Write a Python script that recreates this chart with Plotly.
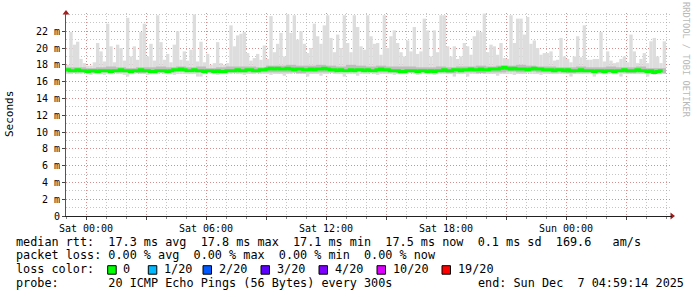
import plotly.graph_objects as go
import pandas as pd

# ---------------- data ----------------
START = "2025-12-05 23:00:00"
STEP_MIN = 10          # smoke / median resolution
MID_STEP_MIN = 30      # inner smoke band resolution

median_ms = [
    17.4,17.3,17.3,17.4,17.3,17.3,17.2,17.3,17.3,17.2,17.3,17.3,17.3,17.2,17.3,17.3,17.4,17.3,
    17.3,17.2,17.3,17.3,17.4,17.3,17.3,17.2,17.2,17.3,17.3,17.3,17.2,17.3,17.4,17.4,17.5,17.4,
    17.3,17.3,17.4,17.3,17.3,17.2,17.3,17.3,17.2,17.3,17.2,17.2,17.3,17.3,17.3,17.4,17.3,17.3,
    17.4,17.4,17.3,17.3,17.4,17.4,17.5,17.6,17.5,17.6,17.5,17.5,17.6,17.5,17.4,17.5,17.5,17.4,
    17.4,17.5,17.4,17.5,17.5,17.6,17.5,17.4,17.4,17.3,17.4,17.3,17.3,17.4,17.3,17.4,17.4,17.3,
    17.4,17.3,17.3,17.4,17.5,17.4,17.4,17.3,17.3,17.3,17.2,17.2,17.3,17.3,17.3,17.2,17.3,17.3,
    17.2,17.3,17.2,17.3,17.3,17.4,17.3,17.3,17.4,17.4,17.3,17.4,17.4,17.5,17.4,17.4,17.5,17.4,
    17.4,17.5,17.5,17.5,17.6,17.7,17.6,17.5,17.6,17.5,17.5,17.5,17.4,17.5,17.6,17.5,17.5,17.4,
    17.4,17.4,17.3,17.4,17.4,17.3,17.4,17.3,17.3,17.3,17.4,17.3,17.3,17.3,17.2,17.3,17.3,17.2,
    17.3,17.3,17.2,17.3,17.3,17.4,17.3,17.3,17.3,17.4,17.3,17.3,17.2,17.3,17.1,17.2,17.3,17.3,
]

smoke_max_ms = [
    18.0,21.9,20.4,20.75,18.7,18.2,17.9,17.9,18.3,20.6,19.6,18.4,22.9,20.2,18.3,20.4,20.0,18.5,
    23.6,19.0,20.2,18.6,21.9,22.9,19.0,20.5,18.5,23.9,20.7,18.6,19.3,18.3,20.4,22.0,18.6,19.6,
    18.5,19.8,24.0,18.4,20.75,18.3,19.3,18.0,18.2,20.7,18.2,18.0,18.2,22.7,20.2,21.5,21.7,21.9,
    19.4,18.5,18.8,19.3,18.6,20.3,18.7,23.8,19.5,20.5,21.8,19.0,24.0,21.8,23.9,21.0,22.0,20.5,
    19.4,20.0,22.9,21.4,20.5,22.7,23.9,21.2,19.5,21.6,20.0,23.9,20.6,19.5,23.9,22.5,20.2,19.8,
    23.9,21.4,20.5,20.6,19.2,23.9,20.0,21.4,22.1,20.6,19.5,19.0,20.9,19.6,22.5,19.3,19.6,23.5,
    22.1,19.0,22.1,19.5,23.9,23.9,20.2,19.0,20.2,18.7,19.0,20.6,20.2,19.2,21.4,22.1,21.9,24.1,
    19.5,20.4,20.2,19.2,20.6,18.8,18.7,23.9,20.6,23.5,23.5,21.6,23.7,20.5,20.9,20.0,19.2,19.4,
    19.4,19.6,18.5,18.6,21.2,19.0,18.7,18.3,19.0,21.4,18.9,22.7,18.6,18.6,18.7,18.7,21.9,18.4,
    19.6,18.5,18.2,18.3,18.7,19.0,18.3,21.6,19.6,18.2,18.7,19.4,18.2,20.8,21.2,19.0,18.2,20.8,
]

smoke_min_ms = [
    16.9,16.9,17.0,16.9,16.9,17.0,16.9,16.8,16.9,16.9,16.9,16.8,16.9,16.9,17.0,16.9,16.9,16.8,
    16.6,16.9,16.9,17.0,16.9,16.9,16.8,16.9,16.9,16.9,17.0,16.9,16.9,16.9,16.8,16.9,16.9,16.9,
    16.9,16.9,16.9,16.6,16.6,16.9,17.0,16.9,16.9,16.8,16.9,16.9,16.9,16.9,17.0,16.9,16.9,16.8,
    16.9,16.9,16.9,17.0,16.9,16.9,16.9,16.8,16.9,16.9,16.9,16.7,16.9,16.9,17.0,16.9,16.9,16.9,
    16.6,16.9,16.9,16.9,16.7,16.9,16.9,17.0,16.9,16.9,16.9,16.6,16.9,16.9,16.9,16.7,16.9,16.9,
    16.9,17.0,16.9,16.8,16.9,16.9,16.9,16.9,16.8,16.9,16.9,16.9,16.9,17.0,16.9,16.8,16.9,16.9,
    16.9,16.9,16.8,16.9,16.9,16.9,16.9,16.9,16.6,16.9,16.9,16.9,16.6,16.9,16.9,16.9,17.0,16.9,
    16.9,16.9,16.9,16.7,16.9,16.9,16.9,16.9,16.8,16.9,16.9,16.9,17.0,16.9,16.9,16.9,16.8,16.9,
    16.9,16.9,16.9,16.9,16.9,16.9,16.9,16.6,16.9,16.9,16.9,16.9,16.9,16.9,16.6,16.9,16.9,16.9,
    16.9,16.9,16.9,16.9,16.6,16.9,16.9,16.9,16.9,16.9,16.9,16.9,16.6,16.9,16.8,16.9,16.9,16.9,
]

inner_lo_ms = [
    17.1,17.1,17.0,17.1,17.1,17.1,17.1,17.0,17.1,17.1,17.1,17.2,
    17.2,17.1,17.1,17.1,17.1,17.1,17.1,17.1,17.1,17.1,17.1,17.0,
    17.1,17.1,17.1,17.2,17.2,17.2,17.2,17.1,17.1,17.0,17.1,17.1,
    17.1,17.1,17.0,17.1,17.1,17.0,17.1,17.1,17.2,17.1,17.2,17.1,
    17.1,17.1,17.0,17.1,17.1,17.0,17.1,17.1,17.0,17.1,17.0,17.0,
]
inner_hi_ms = [
    17.7,17.7,17.6,17.7,17.8,17.7,17.6,17.7,17.7,17.8,17.7,17.8,
    17.7,17.8,17.6,17.7,17.8,17.8,17.8,17.7,17.9,17.9,18.0,17.9,
    17.9,18.0,17.9,17.8,18.0,17.9,17.8,17.9,17.8,17.8,17.8,17.7,
    17.7,17.8,17.7,17.8,17.8,17.9,17.8,17.9,17.9,18.0,17.9,17.8,
    17.8,17.7,17.7,17.8,17.7,17.7,17.8,17.7,17.7,17.8,17.6,17.6,
]

y_tick_values = [0, 2, 4, 6, 8, 10, 12, 14, 16, 18, 20, 22]
y_tick_labels = ["0", "2 m", "4 m", "6 m", "8 m", "10 m", "12 m", "14 m", "16 m", "18 m", "20 m", "22 m"]
x_tick_labels = ["Sat 00:00", "", "Sat 06:00", "", "Sat 12:00", "", "Sat 18:00", "", "Sun 00:00", ""]
X_FIRST_TICK = "2025-12-06 00:00:00"

legend_rtt = "median rtt:  17.3 ms avg  17.8 ms max  17.1 ms min  17.5 ms now  0.1 ms sd  169.6   am/s"
legend_loss = "packet loss: 0.00 % avg  0.00 % max  0.00 % min  0.00 % now"
legend_color_title = "loss color:"
loss_labels = ["0", "1/20", "2/20", "3/20", "4/20", "10/20", "19/20"]
loss_colors = ["#00ff00", "#00b8ff", "#0059ff", "#5e00ff", "#7e00ff", "#dd00ff", "#ff0000"]
legend_probe = "probe:       20 ICMP Echo Pings (56 Bytes) every 300s"
legend_end = "end: Sun Dec  7 04:59:14 2025"
y_title = "Seconds"
watermark = "RRDTOOL / TOBI OETIKER"

# ---------------- layout geometry ----------------
W, H = 697, 297
ML, MR, MT, MB = 66, 25, 13, 81
PW, PH = W - ML - MR, H - MT - MB
Y_TOP = 24.17
X_EXTRA_H = 0.3

start = pd.Timestamp(START)
t10 = [start + pd.Timedelta(minutes=STEP_MIN * i) for i in range(len(median_ms))]
t30 = [start + pd.Timedelta(minutes=MID_STEP_MIN * i) for i in range(len(inner_hi_ms))]
end = t10[-1] + pd.Timedelta(minutes=STEP_MIN)
x_end = end + pd.Timedelta(hours=X_EXTRA_H)
tickvals = [pd.Timestamp(X_FIRST_TICK) + pd.Timedelta(hours=3 * k) for k in range(len(x_tick_labels))]


def px(xp):
    return (xp - ML) / PW


def py(yp):
    return (H - MB - yp) / PH


def nb(s):
    return s.replace(" ", "\u00a0")


MONO = "DejaVu Sans Mono"
fig = go.Figure()

fig.add_trace(go.Bar(
    x=t10, base=smoke_min_ms, y=[a - b for a, b in zip(smoke_max_ms, smoke_min_ms)],
    width=STEP_MIN * 60000, offset=0, marker=dict(color="#dddddd", line=dict(width=0)),
    hoverinfo="skip", showlegend=False))
fig.add_trace(go.Bar(
    x=t30, base=inner_lo_ms, y=[a - b for a, b in zip(inner_hi_ms, inner_lo_ms)],
    width=MID_STEP_MIN * 60000, offset=0, marker=dict(color="#bdbdbd", line=dict(width=0)),
    hoverinfo="skip", showlegend=False))
fig.add_trace(go.Scatter(
    x=t10, y=median_ms, mode="lines", line=dict(color="#00ff00", width=3, shape="hv"),
    hoverinfo="skip", showlegend=False))
# axis arrows
fig.add_trace(go.Scatter(x=[start], y=[Y_TOP], mode="markers", cliponaxis=False,
                         marker=dict(symbol="triangle-up", size=6, color="#a01c1c"),
                         hoverinfo="skip", showlegend=False))
fig.add_trace(go.Scatter(x=[x_end], y=[0], mode="markers", cliponaxis=False,
                         marker=dict(symbol="triangle-right", size=6, color="#a01c1c"),
                         hoverinfo="skip", showlegend=False))

major_grid = "rgba(225,90,90,0.5)"
minor_grid = "rgba(150,150,150,0.55)"
dots = "1px,2px"

fig.update_layout(
    width=W, height=H, margin=dict(l=ML, r=MR, t=MT, b=MB, pad=0),
    paper_bgcolor="white", plot_bgcolor="white", barmode="overlay",
    showlegend=False,
    font=dict(family=MONO, size=10, color="#000"),
    xaxis=dict(
        type="date", range=[start, x_end], tickmode="array", tickvals=tickvals, ticktext=x_tick_labels,
        showgrid=True, gridcolor=major_grid, griddash=dots, gridwidth=1,
        ticks="outside", ticklen=3, tickcolor="#444", showline=True, linecolor="#222", linewidth=1,
        zeroline=False, tickfont=dict(family=MONO, size=10, color="#000"),
        minor=dict(dtick=3600000, tick0=START, showgrid=True, gridcolor=minor_grid, griddash=dots,
                   ticks="outside", ticklen=2, tickcolor="#888"),
    ),
    yaxis=dict(
        range=[0, Y_TOP], tickmode="array", tickvals=y_tick_values, ticktext=y_tick_labels,
        showgrid=True, gridcolor=major_grid, griddash=dots, gridwidth=1,
        ticks="outside", ticklen=3, tickcolor="#444", showline=True, linecolor="#555", linewidth=1,
        zeroline=False, tickfont=dict(family=MONO, size=10, color="#000"),
        minor=dict(dtick=1, tick0=0, showgrid=True, gridcolor=minor_grid, griddash=dots),
    ),
)

ann = []
ann.append(dict(text=y_title, x=px(10), y=py(114), xref="paper", yref="paper", showarrow=False,
                textangle=-90, font=dict(family=MONO, size=11, color="#000"), xanchor="center", yanchor="middle"))
ann.append(dict(text=nb(watermark), x=px(686), y=py(60), xref="paper", yref="paper", showarrow=False,
                textangle=90, font=dict(family=MONO, size=8.7, color="#b8b8b8"), xanchor="center", yanchor="middle"))

LEG_FS = 11.8
LEG_X = 15
for txt, yy in [(legend_rtt, 241.6), (legend_loss, 255.3), (legend_color_title, 269.3), (legend_probe, 282.8)]:
    ann.append(dict(text=nb(txt), x=px(LEG_X), y=py(yy), xref="paper", yref="paper", showarrow=False,
                    xanchor="left", yanchor="middle", borderpad=0,
                    font=dict(family=MONO, size=LEG_FS, color="#000")))
ann.append(dict(text=nb(legend_end), x=px(477), y=py(282.8), xref="paper", yref="paper", showarrow=False,
                xanchor="left", yanchor="middle", borderpad=0, font=dict(family=MONO, size=LEG_FS, color="#000")))

box_left = [107.7, 148.3, 203.0, 261.0, 319.0, 377.0, 442.0]
BOX_W, BOX_TOP, BOX_BOT = 8.5, 265.7, 274.2
shapes = []
for bx, lab, col in zip(box_left, loss_labels, loss_colors):
    shapes.append(dict(type="rect", xref="paper", yref="paper", x0=px(bx), x1=px(bx + BOX_W),
                       y0=py(BOX_BOT), y1=py(BOX_TOP), fillcolor=col, line=dict(color="#000", width=1)))
    ann.append(dict(text=nb(lab), x=px(bx + 14.5), y=py(269.3), xref="paper", yref="paper", showarrow=False,
                    xanchor="left", yanchor="middle", borderpad=0, font=dict(family=MONO, size=LEG_FS, color="#000")))

fig.update_layout(annotations=ann, shapes=shapes)
fig.write_html("out.html")
